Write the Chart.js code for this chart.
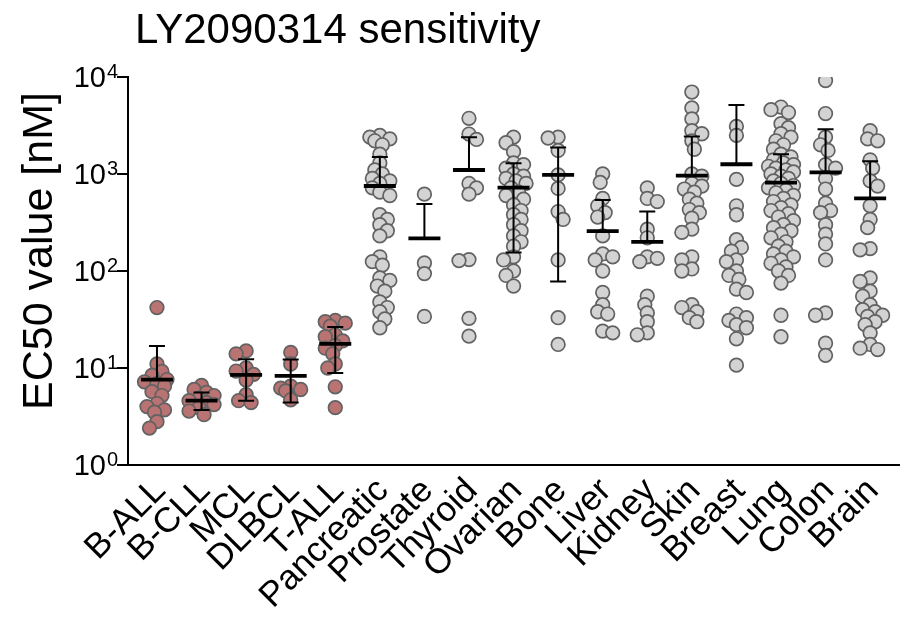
<!DOCTYPE html>
<html>
<head>
<meta charset="utf-8">
<script src="https://cdn.jsdelivr.net/npm/chart.js@4.4.1/dist/chart.umd.min.js"></script>
<style>
  html, body { margin: 0; padding: 0; background: #fff; }
</style>
</head>
<body>
<canvas id="chart" width="900" height="619"></canvas>
<script>
const FONT = "'Liberation Sans', Arial, Helvetica, sans-serif"

const categories = ['B-ALL', 'B-CLL', 'MCL', 'DLBCL', 'T-ALL', 'Pancreatic', 'Prostate', 'Thyroid',
    'Ovarian', 'Bone', 'Liver', 'Kidney', 'Skin', 'Breast', 'Lung', 'Colon', 'Brain']
const hemeCount = 5 // first five groups are blood cancers
const yTicks = [1, 10, 100, 1000, 10000]

// EC50 values per cell line [nM]
const bAll = [42, 11, 9.2, 8.4, 7.6, 7.2, 6.9, 6.5, 5.7, 5.2, 4.3, 4.0, 3.7, 3.5, 2.8, 2.4]
const bCll = [6.6, 6.0, 5.6, 5.2, 4.9, 4.6, 4.4, 4.2, 3.9, 3.6, 3.3]
const mcl = [15, 14, 10, 9.3, 8.6, 7.5, 5.3, 4.6, 4.4]
const dlbcl = [14.5, 11, 6.5, 6.2, 6.0, 5.8, 4.7]
const tAll = [31, 30, 29, 27, 22, 21, 19, 17, 16, 14, 11, 10, 6.4, 3.9]
const pancreatic = [2500, 2400, 2300, 2200, 2000, 1600, 1300, 1100, 1000, 900, 850, 800, 720, 650, 600,
    380, 340, 300, 260, 230, 140, 125, 115, 85, 80, 70, 62, 48, 42, 38, 32, 26]
const prostate = [620, 121, 94, 34]
const thyroid = [3750, 2580, 2270, 800, 720, 620, 131, 128, 32.5, 21.3]
const ovarian = [2400, 2100, 1700, 1300, 1250, 1150, 1000, 950, 900, 850, 800, 720, 650, 600, 550,
    480, 420, 380, 340, 300, 260, 230, 200, 180, 140, 130, 100, 90, 70]
const bone = [2400, 2350, 1750, 980, 710, 410, 340, 130, 33, 17.5]
const liver = [1000, 820, 560, 470, 400, 360, 230, 150, 140, 130, 100, 60, 45, 38, 36, 24, 23]
const kidney = [720, 560, 520, 270, 220, 140, 135, 125, 55, 45, 37, 30, 23, 22]
const skin = [7000, 4800, 3700, 2800, 2600, 2200, 1800, 1000, 950, 800, 750, 700, 650, 550, 500,
    430, 400, 350, 270, 250, 140, 130, 105, 100, 45, 42, 38, 33, 30]
const breast = [3100, 2500, 880, 470, 380, 210, 175, 160, 130, 125, 100, 90, 82, 65, 60,
    36, 33, 31, 28, 26, 20, 10.7]
const lung = [4900, 4600, 4300, 3300, 3000, 2600, 2400, 2200, 2000, 1800, 1600, 1500, 1400, 1300, 1250,
    1200, 1150, 1100, 1050, 1000, 950, 900, 850, 800, 760, 720, 680, 640, 600, 560,
    520, 480, 450, 420, 390, 360, 330, 300, 280, 260, 240, 220, 200, 180, 160,
    150, 140, 130, 120, 110, 100, 90, 75, 35, 21]
const colon = [9200, 4200, 2400, 2000, 1750, 1250, 1150, 900, 700, 500, 420, 400, 300, 240, 190, 130,
    37, 35, 18, 13.5]
const brain = [2800, 2300, 2200, 1400, 1150, 850, 750, 470, 340, 280, 170, 165, 85, 78, 62, 55,
    45, 40, 38, 35, 34, 30, 28, 23, 17.5, 16, 15.5]

const groups = [bAll, bCll, mcl, dlbcl, tAll, pancreatic, prostate, thyroid, ovarian, bone,
    liver, kidney, skin, breast, lung, colon, brain]

// mean and mean +/- SD as drawn (lower arm missing when it goes below zero)
const means = [7.6, 4.6, 8.5, 8.3, 17.7, 752, 217, 1100, 722, 980, 258, 200, 960, 1260, 815, 1040, 561]
const sdHigh = [16.9, 5.6, 12.3, 12.2, 26.5, 1500, 490, 2390, 1290, 1880, 540, 410, 2440, 5140, 1600, 2900, 1350]
const sdLow = [null, 3.7, 4.6, 4.4, 8.9, null, null, null, 155, 78, null, null, null, null, null, null, null]

const ctx = document.getElementById('chart')

const datasets = groups.map((vals, i) => ({
    label: categories[i],
    data: vals.map(v => ({ x: i, y: v })),
    backgroundColor: i < hemeCount ? '#b87372' : '#d3d3d3',
    borderColor: '#626262',
    borderWidth: 1.7,
    pointRadius: 6.8,
    pointHoverRadius: 6.8
}))

// mean line + SD whiskers
const summaryPlugin = {
    id: 'summary',
    afterDatasetsDraw(chart) {
        const c = chart.ctx
        const x = chart.scales.x
        const y = chart.scales.y
        c.save()
        c.strokeStyle = '#000'
        means.forEach((m, i) => {
            const cx = x.getPixelForValue(i)
            const mid = y.getPixelForValue(m)
            const top = y.getPixelForValue(sdHigh[i])
            const bot = sdLow[i] ? y.getPixelForValue(sdLow[i]) : mid
            c.lineWidth = 2
            c.beginPath()
            c.moveTo(cx, top)
            c.lineTo(cx, bot)
            c.moveTo(cx - 8, top)
            c.lineTo(cx + 8, top)
            if (sdLow[i]) {
                c.moveTo(cx - 8, bot)
                c.lineTo(cx + 8, bot)
            }
            c.stroke()
            c.lineWidth = 3.8
            c.beginPath()
            c.moveTo(cx - 16, mid)
            c.lineTo(cx + 16, mid)
            c.stroke()
        })
        c.restore()
    }
}

// title, axis title, 10^n tick labels and slanted category labels
const textPlugin = {
    id: 'texts',
    afterDraw(chart) {
        const c = chart.ctx
        const x = chart.scales.x
        const y = chart.scales.y
        c.save()
        c.fillStyle = '#000'
        c.textBaseline = 'alphabetic'

        c.font = `42px ${FONT}`
        c.textAlign = 'left'
        c.fillText('LY2090314 sensitivity', 135, 43)

        yTicks.forEach(v => {
            const py = y.getPixelForValue(v)
            c.font = `29px ${FONT}`
            c.textAlign = 'right'
            c.fillText('10', 106, py + 10)
            c.font = `20px ${FONT}`
            c.textAlign = 'left'
            c.fillText(String(Math.round(Math.log10(v))), 107, py + 1)
        })

        c.font = `35px ${FONT}`
        c.textAlign = 'right'
        categories.forEach((name, i) => {
            c.save()
            c.translate(x.getPixelForValue(i) + 10, x.bottom - 127)
            c.rotate(-Math.PI / 4)
            c.fillText(name, 0, 0)
            c.restore()
        })

        c.translate(52, 251)
        c.rotate(-Math.PI / 2)
        c.font = `43px ${FONT}`
        c.textAlign = 'center'
        c.fillText('EC50 value [nM]', 0, 0)
        c.restore()
    }
}

const chart = new Chart(ctx, {
    type: 'scatter',
    data: { datasets },
    options: {
        responsive: false,
        animation: false,
        layout: { autoPadding: false, padding: { top: 77, left: 0, right: 0, bottom: 0 } },
        plugins: {
            legend: { display: false },
            tooltip: { enabled: false }
        },
        scales: {
            x: {
                type: 'linear',
                min: -0.65,
                max: 16.67,
                afterBuildTicks: (scale) => {
                    scale.ticks = categories.map((c, i) => ({ value: i }))
                },
                afterFit: (scale) => {
                    scale.height = 154
                },
                grid: { display: false },
                border: { display: true, color: '#000', width: 2 },
                ticks: { display: false }
            },
            y: {
                type: 'logarithmic',
                min: 1,
                max: 10000,
                afterBuildTicks: (scale) => {
                    scale.ticks = yTicks.map(v => ({ value: v }))
                },
                afterFit: (scale) => {
                    scale.width = 128
                },
                grid: {
                    drawOnChartArea: false,
                    drawTicks: true,
                    tickLength: 11,
                    color: '#000',
                    lineWidth: 2
                },
                border: { display: true, color: '#000', width: 2 },
                ticks: { display: false }
            }
        }
    },
    plugins: [summaryPlugin, textPlugin]
})

// spread overlapping dots sideways (simple beeswarm in pixel space)
function swarm(values, yScale, pxPerUnit) {
    const order = values.map((v, i) => i).sort((a, b) => values[b] - values[a])
    const placed = []
    const offsets = new Array(values.length).fill(0)
    order.forEach((i, k) => {
        const py = yScale.getPixelForValue(values[i])
        const sign = k % 2 === 0 ? 1 : -1
        const steps = [0]
        for (let s = 2.5; s <= 12.5; s += 2.5) steps.push(sign * s, -sign * s)
        let best = 0
        let bestD = -1
        for (const dx of steps) {
            let dmin = Infinity
            placed.forEach(p => {
                const d = Math.hypot(p.x - dx, p.y - py)
                if (d < dmin) dmin = d
            })
            if (dmin >= 8.5) {
                best = dx
                break
            }
            if (dmin > bestD) {
                bestD = dmin
                best = dx
            }
        }
        placed.push({ x: best, y: py })
        offsets[i] = best / pxPerUnit
    })
    return offsets
}

const xs = chart.scales.x
const unit = xs.getPixelForValue(1) - xs.getPixelForValue(0)
groups.forEach((vals, i) => {
    const off = swarm(vals, chart.scales.y, unit)
    chart.data.datasets[i].data = vals.map((v, j) => ({ x: i + off[j], y: v }))
})
chart.update()
</script>
</body>
</html>
